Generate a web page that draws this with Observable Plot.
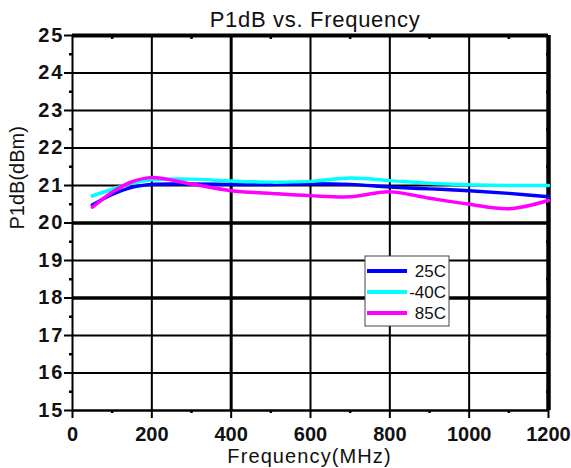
<!DOCTYPE html>
<html>
<head>
<meta charset="utf-8">
<script src="https://cdn.jsdelivr.net/npm/d3@7"></script>
<script src="https://cdn.jsdelivr.net/npm/@observablehq/plot@0.6"></script>
<style>
  html, body { margin: 0; padding: 0; background: #fff; }
  #chart svg { display: block; }
</style>
</head>
<body>
<div id="chart"></div>
<script>
// Frequency sweep points (MHz)
const freq = [50, 100, 150, 200, 300, 400, 500, 600, 700, 800, 900, 1000, 1100, 1200];

// P1dB (dBm) per temperature
const p25  = [20.48, 20.76, 20.95, 21.03, 21.04, 21.03, 21.03, 21.05, 21.03, 20.96, 20.91, 20.86, 20.79, 20.70];
const pM40 = [20.72, 20.90, 21.06, 21.15, 21.17, 21.12, 21.09, 21.11, 21.20, 21.13, 21.06, 21.02, 21.00, 21.00];
const p85  = [20.42, 20.82, 21.10, 21.21, 21.04, 20.86, 20.79, 20.73, 20.70, 20.83, 20.66, 20.50, 20.38, 20.60];

const seriesNames = ["25C", "-40C", "85C"];
const seriesColors = ["#0000ff", "#00ffff", "#ff00ff"];

// Axis ticks
const xTicks = [0, 200, 400, 600, 800, 1000, 1200];
const xMinor = [100, 300, 500, 700, 900, 1100];
const yTicks = [15, 16, 17, 18, 19, 20, 21, 22, 23, 24, 25];
const yMinor = [15.5, 16.5, 17.5, 18.5, 19.5, 20.5, 21.5, 22.5, 23.5, 24.5];

// Grid lines (heavier ones drawn separately)
const xGrid = [200, 600, 800, 1000];
const xGridHeavy = [400];
const yGrid = [16, 17, 19, 21, 22, 23, 24];
const yGridHeavy = [18, 20];

const rows = [p25, pM40, p85].flatMap((vals, i) =>
  vals.map((v, j) => ({freq: freq[j], p1db: v, series: seriesNames[i]}))
);

const font = "'Liberation Sans', Arial, Helvetica, sans-serif";

const chart = Plot.plot({
  width: 571,
  height: 468,
  marginLeft: 72,
  marginRight: 23,
  marginTop: 35,
  marginBottom: 58,
  style: {fontFamily: font, fontSize: "20px", color: "#000", background: "#fff", overflow: "visible"},
  x: {domain: [0, 1200]},
  y: {domain: [15, 25]},
  color: {domain: seriesNames, range: seriesColors},
  marks: [
    // grid
    Plot.ruleX(xGrid, {stroke: "#000", strokeWidth: 2}),
    Plot.ruleX(xGridHeavy, {stroke: "#000", strokeWidth: 3}),
    Plot.ruleY(yGrid, {stroke: "#000", strokeWidth: 2}),
    Plot.ruleY(yGridHeavy, {stroke: "#000", strokeWidth: 3.5}),
    // frame
    Plot.ruleX([0], {stroke: "#000", strokeWidth: 2}),
    Plot.ruleX([1200], {stroke: "#000", strokeWidth: 4.5}),
    Plot.ruleY([15], {stroke: "#000", strokeWidth: 2.5}),
    Plot.ruleY([25], {stroke: "#000", strokeWidth: 4}),
    // axes
    Plot.axisX({ticks: xTicks, tickSize: 8, tickPadding: 8, strokeWidth: 2, fontSize: 20, tickFormat: d => String(d), label: null}),
    Plot.axisX({ticks: xMinor, tickSize: 3, strokeWidth: 2.5, tickFormat: () => "", label: null}),
    Plot.axisX({anchor: "top", ticks: xMinor, tickSize: -3, strokeWidth: 2.5, tickFormat: () => "", label: null}),
    Plot.axisY({ticks: yTicks, tickSize: 8, tickPadding: 0, strokeWidth: 2, fontSize: 20, tickFormat: d => String(d), label: null}),
    Plot.axisY({ticks: yMinor, tickSize: 3, strokeWidth: 2.5, tickFormat: () => "", label: null}),
    Plot.axisY({anchor: "right", ticks: yMinor, tickSize: -3, strokeWidth: 2.5, tickFormat: () => "", label: null}),
    // curves
    Plot.line(rows, {x: "freq", y: "p1db", z: "series", stroke: "series", strokeWidth: 3.5, curve: "catmull-rom"}),
    // titles
    Plot.text(["P1dB vs. Frequency"], {frameAnchor: "top", lineAnchor: "bottom", dy: -8.3, dx: 4.5, fontSize: 22, fill: "#111"}),
    Plot.text(["Frequency(MHz)"], {frameAnchor: "bottom", lineAnchor: "bottom", dy: 52.7, dx: -1, fontSize: 20, fill: "#111"}),
    Plot.text(["P1dB(dBm)"], {frameAnchor: "left", rotate: -90, dx: -55, dy: 6.5, fontSize: 20, fill: "#111"})
  ]
});

const svg = d3.select(chart);
svg.selectAll("g[aria-label='x-axis tick label'] text, g[aria-label='y-axis tick label'] text")
  .style("font-weight", "bold").attr("fill", "#111");
svg.selectAll("g[aria-label='y-axis tick label'] text").style("letter-spacing", "2px");
svg.selectAll("g[aria-label='text'] text").filter(function() { return this.textContent === "P1dB vs. Frequency"; }).style("letter-spacing", "0.7px");
svg.selectAll("g[aria-label='text'] text").filter(function() { return this.textContent === "Frequency(MHz)"; }).style("letter-spacing", "1.1px");

// Legend box
const color = chart.scale("color");
const lg = svg.append("g").attr("font-family", font).attr("font-size", 17);
lg.append("rect")
  .attr("x", 365).attr("y", 256).attr("width", 84).attr("height", 70)
  .attr("fill", "#fff").attr("stroke", "#444").attr("stroke-width", 1);
color.domain.forEach((name, i) => {
  const y = 271 + i * 21;
  lg.append("line")
    .attr("x1", 367).attr("x2", 407).attr("y1", y).attr("y2", y)
    .attr("stroke", color.range[i]).attr("stroke-width", 4);
  lg.append("text")
    .attr("x", 446).attr("y", y).attr("dy", "0.36em")
    .attr("text-anchor", "end").attr("fill", "#111")
    .text(name);
});

document.getElementById("chart").appendChild(chart);
</script>
</body>
</html>
